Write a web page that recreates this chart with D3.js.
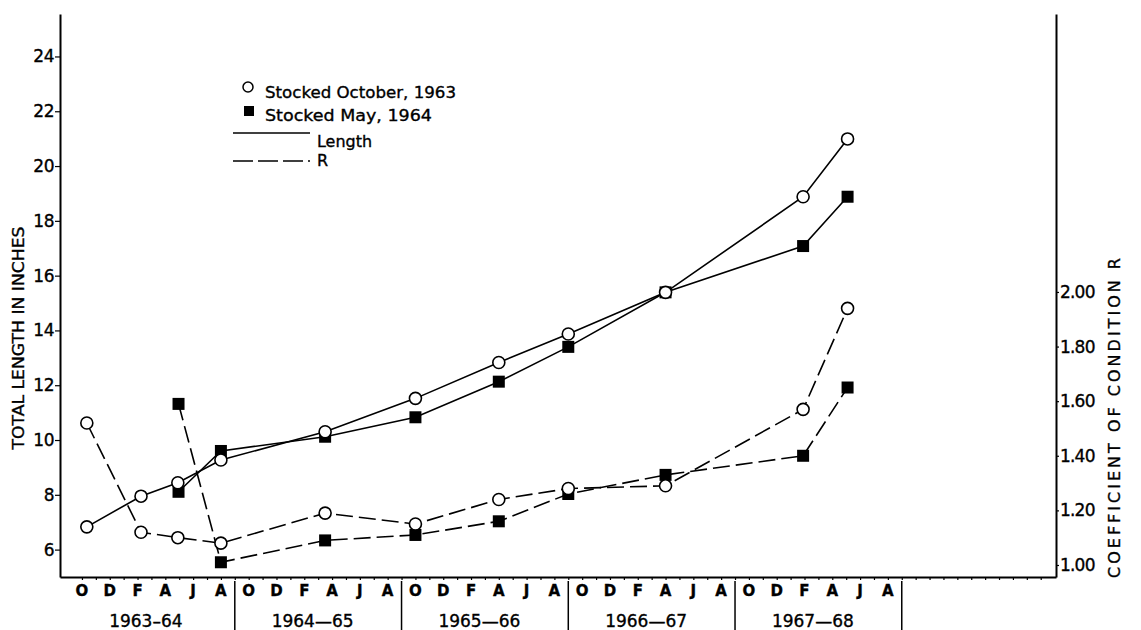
<!DOCTYPE html>
<html>
<head>
<meta charset="utf-8">
<script src="https://cdn.jsdelivr.net/npm/d3@7"></script>
<style>
  body { margin: 0; background: #fff; }
  svg { display: block; }
  text { font-family: "DejaVu Sans", sans-serif; fill: #000; stroke: #000; stroke-width: 0.35px; }
</style>
</head>
<body>
<svg id="chart" width="1141" height="630"></svg>
<script>
// Months are counted from October 1963 (0 = Oct 1963, 12 = Oct 1964, ...)
const monthLabels = ["O", "D", "F", "A", "J", "A"];
const monthLabelOffsets = [0, 2, 4, 6, 8, 10];
const seasons = ["1963\u201364", "1964\u201465", "1965\u201466", "1966\u201467", "1967\u201468"];
const lengthTicks = [6, 8, 10, 12, 14, 16, 18, 20, 22, 24];
const rTicks = [1.0, 1.2, 1.4, 1.6, 1.8, 2.0];

// Fish stocked October 1963
const octMonths = [0.35, 4.25, 6.9, 10, 17.5, 24, 30, 35, 42, 51.9, 55.1];
const octLength = [6.83, 7.95, 8.44, 9.27, 10.30, 11.52, 12.83, 13.87, 15.39, 18.88, 20.99];
const octR = [1.52, 1.12, 1.10, 1.08, 1.19, 1.15, 1.24, 1.28, 1.29, 1.57, 1.94];

// Fish stocked May 1964
const mayMonths = [6.95, 10, 17.5, 24, 30, 35, 42, 51.9, 55.1];
const mayLength = [8.11, 9.60, 10.12, 10.83, 12.13, 13.40, 15.39, 17.08, 18.88];
const mayR = [1.59, 1.01, 1.09, 1.11, 1.16, 1.26, 1.33, 1.40, 1.65];

const svg = d3.select("#chart");
svg.append("rect").attr("width", 1141).attr("height", 630).attr("fill", "#fff");

const x = d3.scaleLinear().domain([-1.58, 70.1]).range([60, 1056]);
const yL = d3.scaleLinear().domain([5, 25.55]).range([577, 14]);
const yR = d3.scaleLinear().domain([0.956, 3.018]).range([577, 14]);

// ---- axes ----
const leftAxis = svg.append("g").attr("transform", `translate(${x.range()[0]},0)`)
  .call(d3.axisLeft(yL).tickValues(lengthTicks).tickSize(5).tickSizeOuter(0).tickPadding(1));
leftAxis.select(".domain").attr("stroke-width", 2);
leftAxis.selectAll(".tick line").attr("stroke-width", 1.2);
leftAxis.selectAll(".tick text").attr("font-size", 17).attr("font-family", "DejaVu Sans")
  .attr("letter-spacing", -0.5);

const rightAxis = svg.append("g").attr("transform", `translate(${x.range()[1]},0)`)
  .call(d3.axisRight(yR).tickValues(rTicks).tickSize(3).tickSizeOuter(0).tickPadding(1)
    .tickFormat(d3.format(".2f")));
rightAxis.select(".domain").attr("stroke-width", 2);
rightAxis.selectAll(".tick line").attr("stroke-width", 1.2);
rightAxis.selectAll(".tick text").attr("font-size", 17).attr("font-family", "DejaVu Sans")
  .attr("letter-spacing", -0.8);

const bottomAxis = svg.append("g").attr("transform", `translate(0,${yL.range()[0]})`)
  .call(d3.axisBottom(x).tickValues(d3.range(0, 70)).tickSize(3).tickSizeOuter(0).tickFormat(""));
bottomAxis.select(".domain").attr("stroke-width", 2);
bottomAxis.selectAll(".tick line").attr("stroke-width", 1.2);

// month letters for each season
const monthData = [];
seasons.forEach((s, k) => monthLabelOffsets.forEach((o, i) =>
  monthData.push({ m: o + 12 * k, label: monthLabels[i] })));
svg.append("g").selectAll("text").data(monthData).join("text")
  .attr("x", d => x(d.m)).attr("y", 596)
  .attr("text-anchor", "middle").attr("font-size", 15).attr("font-weight", "bold")
  .text(d => d.label);

// season separators and names
svg.append("g").selectAll("line").data(seasons).join("line")
  .attr("x1", (d, k) => x(11 + 12 * k)).attr("x2", (d, k) => x(11 + 12 * k))
  .attr("y1", 581).attr("y2", 630).attr("stroke", "#000").attr("stroke-width", 1.5);
svg.append("g").selectAll("text").data(seasons).join("text")
  .attr("x", (d, k) => x(4.6 + 12 * k)).attr("y", 627)
  .attr("text-anchor", "middle").attr("font-size", 17)
  .text(d => d);

// axis titles
svg.append("text")
  .attr("transform", "translate(24,338) rotate(-90)")
  .attr("text-anchor", "middle").attr("font-size", 15)
  .attr("textLength", 223).attr("lengthAdjust", "spacingAndGlyphs")
  .text("TOTAL  LENGTH  IN  INCHES");
svg.append("text")
  .attr("transform", "translate(1120,418) rotate(-90)")
  .attr("text-anchor", "middle").attr("font-size", 16)
  .attr("textLength", 320).attr("lengthAdjust", "spacing")
  .text("COEFFICIENT  OF  CONDITION  R");

// ---- series ----
const toPts = (months, vals) => months.map((m, i) => ({ m, v: vals[i] }));
const lineL = d3.line().x(d => x(d.m)).y(d => yL(d.v));
const lineR = d3.line().x(d => x(d.m)).y(d => yR(d.v));
const series = [
  { pts: toPts(octMonths, octLength), line: lineL, y: yL, dash: null, marker: "circle" },
  { pts: toPts(mayMonths, mayLength), line: lineL, y: yL, dash: null, marker: "square" },
  { pts: toPts(octMonths, octR), line: lineR, y: yR, dash: "17,6", marker: "circle" },
  { pts: toPts(mayMonths, mayR), line: lineR, y: yR, dash: "17,6", marker: "square" }
];

const lines = svg.append("g");
series.forEach(s => {
  lines.append("path").datum(s.pts).attr("d", s.line)
    .attr("fill", "none").attr("stroke", "#000").attr("stroke-width", 1.6)
    .attr("stroke-dasharray", s.dash);
});

const marks = svg.append("g");
// squares first, open circles drawn over them
series.filter(s => s.marker === "square").forEach(s => {
  marks.append("g").selectAll("rect").data(s.pts).join("rect")
    .attr("x", d => x(d.m) - 6).attr("y", d => s.y(d.v) - 6)
    .attr("width", 12).attr("height", 12).attr("fill", "#000");
});
series.filter(s => s.marker === "circle").forEach(s => {
  marks.append("g").selectAll("circle").data(s.pts).join("circle")
    .attr("cx", d => x(d.m)).attr("cy", d => s.y(d.v)).attr("r", 6)
    .attr("fill", "#fff").attr("stroke", "#000").attr("stroke-width", 1.6);
});

// ---- legend ----
const lg = svg.append("g");
lg.append("circle").attr("cx", 248).attr("cy", 87).attr("r", 5)
  .attr("fill", "#fff").attr("stroke", "#000").attr("stroke-width", 1.5);
lg.append("text").attr("x", 265).attr("y", 98).attr("font-size", 16)
  .attr("textLength", 191).attr("lengthAdjust", "spacingAndGlyphs")
  .text("Stocked  October, 1963");
lg.append("rect").attr("x", 244).attr("y", 106).attr("width", 10).attr("height", 10).attr("fill", "#000");
lg.append("text").attr("x", 265).attr("y", 121).attr("font-size", 16)
  .attr("textLength", 167).attr("lengthAdjust", "spacingAndGlyphs")
  .text("Stocked  May,  1964");
lg.append("line").attr("x1", 233).attr("x2", 310).attr("y1", 133).attr("y2", 133)
  .attr("stroke", "#000").attr("stroke-width", 1.5);
lg.append("text").attr("x", 317).attr("y", 147).attr("font-size", 16)
  .attr("textLength", 55).attr("lengthAdjust", "spacingAndGlyphs").text("Length");
lg.append("line").attr("x1", 233).attr("x2", 310).attr("y1", 161).attr("y2", 161)
  .attr("stroke", "#000").attr("stroke-width", 1.5).attr("stroke-dasharray", "20,5");
lg.append("text").attr("x", 317).attr("y", 166).attr("font-size", 16).text("R");
</script>
</body>
</html>
